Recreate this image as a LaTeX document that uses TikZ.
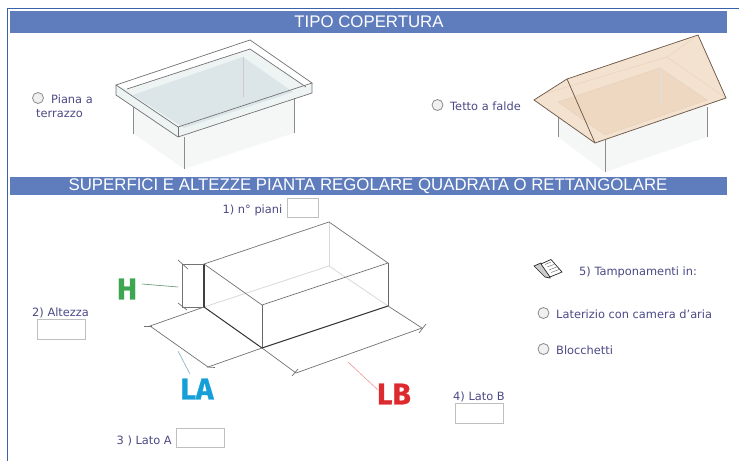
\documentclass[tikz,border=0pt]{standalone}
\usepackage{fontspec}
\setmainfont{DejaVu Sans}
\newfontfamily\headfont{Liberation Sans}
\newfontfamily\labfont[FakeBold=0.8]{Fira Sans Bold}
\definecolor{bar}{HTML}{5F7DBD}
\definecolor{frameblue}{HTML}{3A62A8}
\definecolor{ink}{HTML}{4C4A85}
\definecolor{glass}{HTML}{DCE6E8}
\definecolor{glassb}{HTML}{EEF3F4}
\definecolor{roofa}{HTML}{F4E2D0}
\definecolor{roofb}{HTML}{EED8C2}
\definecolor{roofline}{HTML}{6E5A4A}
\definecolor{wallshade}{HTML}{F5F6F6}
\definecolor{hgreen}{HTML}{3DA650}
\definecolor{lablue}{HTML}{159FD8}
\definecolor{lbred}{HTML}{DD2A2E}
\tikzset{
  px/.style={x=1pt,y=-1pt},
  headbar/.style={fill=bar,draw=none},
  headtext/.style={font=\headfont\fontsize{16.8}{18}\selectfont,text=white,inner sep=0pt,anchor=center},
  formtext/.style={font=\fontsize{11.4}{13}\selectfont,text=ink,inner sep=0pt},
  radiobtn/.style={circle,draw=gray!90,fill=gray!12,line width=.8pt,minimum size=11pt,inner sep=0pt},
  fieldbox/.style={draw=black!25,fill=white,line width=.9pt},
  thin3d/.style={draw=black!55,line width=.7pt},
  edge3d/.style={draw=black!60,line width=.9pt},
  post/.style={draw=black!45,line width=.8pt},
  dimline/.style={draw=black!55,line width=.7pt},
  bigtag/.style={font=\labfont\fontsize{30}{31}\selectfont,inner sep=0pt},
}
\begin{document}
\begin{tikzpicture}[px]
\useasboundingbox (0,0) rectangle (739,461);
\fill[white] (0,0) rectangle (739,461);
% page frame
\draw[frameblue,line width=1pt] (7,461) -- (7,8) -- (739,8);
% header bars
\fill[headbar] (10,11) rectangle (727,32.5);
\node[headtext] (h1) at (369,22) {TIPO COPERTURA};
\fill[headbar] (10,177) rectangle (727,194.5);
\node[headtext] (h2) at (368,186) {SUPERFICI E ALTEZZE PIANTA REGOLARE QUADRATA O RETTANGOLARE};

% ---- flat roof
\fill[wallshade] (133,107) -- (133,133) -- (184,169) -- (294,133) -- (294,98) -- cycle;
\fill[glassb] (116,85) -- (250,40) -- (312,83) -- (312,93) -- (178,137) -- (116,95) -- cycle;
\fill[white] (116,85) -- (250,40) -- (312,83) -- (306,87) -- (250,49) -- (127,89) -- cycle;
\fill[glass] (133,95) -- (243,57) -- (293,92) -- (184,128) -- cycle;
\draw[post,draw=black!20] (243,57) -- (243,97);
\draw[post] (133,107) -- (133,134);
\draw[post] (294,98) -- (294,133);
\draw[post] (184,137) -- (184,169);
\draw[thin3d] (116,85) -- (250,40) -- (312,83) -- (178,127) -- cycle;
\draw[thin3d] (116,85) -- (116,95) -- (178,137) -- (312,93) -- (312,83);
\draw[thin3d] (178,127) -- (178,137);
\draw[thin3d] (127,89) -- (250,49) -- (306,87);

% ---- pitched roof
\fill[wallshade] (558,137) -- (605,172) -- (707,137) -- (707,105) -- (558,110) -- cycle;
\draw[post] (558,102) -- (558,137);
\draw[post] (707,107) -- (707,137);
\draw[post] (605,135) -- (605,172);
\fill[roofa] (534,100) -- (567,79) -- (698,35) -- (726,98) -- (595,143) -- cycle;
\fill[roofb] (558,102) -- (660,68) -- (707,100) -- (605,135) -- cycle;
\draw[post,draw=black!12] (660,68) -- (660,105);
\draw[draw=brown!35,line width=.5pt] (547,93) -- (667,57) -- (698,35);
\draw[draw=brown!35,line width=.5pt] (667,57) -- (726,98);
\draw[draw=brown!35,line width=.5pt] (558,102) -- (660,68) -- (707,100) -- (605,135) -- cycle;
\draw[draw=roofline,line width=.75pt] (534,100) -- (567,79) -- (698,35) -- (726,98) -- (595,143) -- cycle;
\draw[draw=roofline,line width=.75pt] (567,79) -- (595,143);

% ---- building box
\draw[draw=black!15,line width=.8pt] (204,307) -- (329,266) -- (388,306);
\draw[draw=black!15,line width=.8pt] (329,222) -- (329,266);
\draw[thin3d] (204,264) -- (329,222) -- (388,263) -- (262,305) -- cycle;
\draw[edge3d] (388,263) -- (388,306);
\draw[edge3d] (262,305) -- (262,348);
\draw[draw=black!75,line width=1.1pt] (204,264) -- (204,307);
\draw[draw=black!80,line width=1pt] (204,307) -- (262,348) -- (388,306);
% H dimension
\draw[dimline] (204,264) -- (182,264) -- (182,307) -- (204,307);
\draw[dimline] (178,260) -- (188,269);
\draw[dimline] (178,303) -- (187,310);
% LA dimension
\draw[dimline] (204,307) -- (150,326) -- (208,367) -- (262,348);
\draw[dimline] (144,326) -- (152,326);
\draw[dimline] (207,367) -- (215,367.5);
% LB dimension
\draw[dimline] (262,348) -- (296,373) -- (422,328) -- (388,306);
\draw[dimline] (292,376) -- (298,369);
\draw[dimline] (419,333) -- (426,324);

% big tags and leaders
\node[bigtag,text=hgreen] (tagH) at (127,289) {H};
\node[bigtag,text=lablue] (tagLA) at (197,389) {LA};
\node[bigtag,text=lbred] (tagLB) at (394,394) {LB};
\coordinate (leadH) at (178,287);
\coordinate (leadLA) at (178,351);
\coordinate (leadLB) at (348,362);
\draw[draw=hgreen!50!gray,line width=.6pt] (142,284) -- (leadH);
\draw[draw=lablue!50!gray!70,line width=.6pt] (190,374) -- (leadLA);
\draw[draw=lbred!50,line width=.6pt] (378,390) -- (leadLB);

% ---- form
\node[radiobtn] (r1) at (38,98) {};
\node[formtext,anchor=west] (t1) at (51,99.5) {Piana a};
\node[formtext,anchor=west] (t1b) at (36,114) {terrazzo};
\node[radiobtn] (r2) at (437.5,105) {};
\node[formtext,anchor=west] (t2) at (450,106) {Tetto a falde};

\node[formtext,anchor=east] (q1) at (282.5,210.5) {1) n° piani};
\node[fieldbox,minimum width=31pt,minimum height=19pt,inner sep=0pt] (f1) at (302.5,207.5) {};
\node[formtext,anchor=west] (q2) at (32,312.5) {2) Altezza};
\node[fieldbox,minimum width=48pt,minimum height=20pt,inner sep=0pt] (f2) at (61,329) {};
\node[formtext,anchor=east] (q3) at (172,440.5) {3 ) Lato A};
\node[fieldbox,minimum width=48pt,minimum height=19pt,inner sep=0pt] (f3) at (200,437.5) {};
\node[formtext,anchor=west] (q4) at (453,397) {4) Lato B};
\node[fieldbox,minimum width=48pt,minimum height=20pt,inner sep=0pt] (f4) at (479,413) {};

% book icon
\filldraw[fill=black!20,draw=black!85,line width=.7pt] (534,266) -- (541,263) -- (550,274) -- (550,278) -- (545,277) -- cycle;
\filldraw[fill=white,draw=black!85,line width=.7pt] (541,264) -- (551,259.5) -- (562,272) -- (550,277) -- cycle;
\draw[black!60,line width=.4pt] (545,264.5) -- (551,262) (547,267) -- (554,264.5) (549,270) -- (556.5,267) (551,272.5) -- (559,269.5);

\node[formtext,anchor=west] (q5) at (579,272) {5) Tamponamenti in:};
\node[radiobtn] (r3) at (543.5,313) {};
\node[formtext,anchor=west] (t3) at (556,314) {Laterizio con camera d'aria};
\node[radiobtn] (r4) at (543.5,349) {};
\node[formtext,anchor=west] (t4) at (556,350) {Blocchetti};
\end{tikzpicture}
\end{document}
